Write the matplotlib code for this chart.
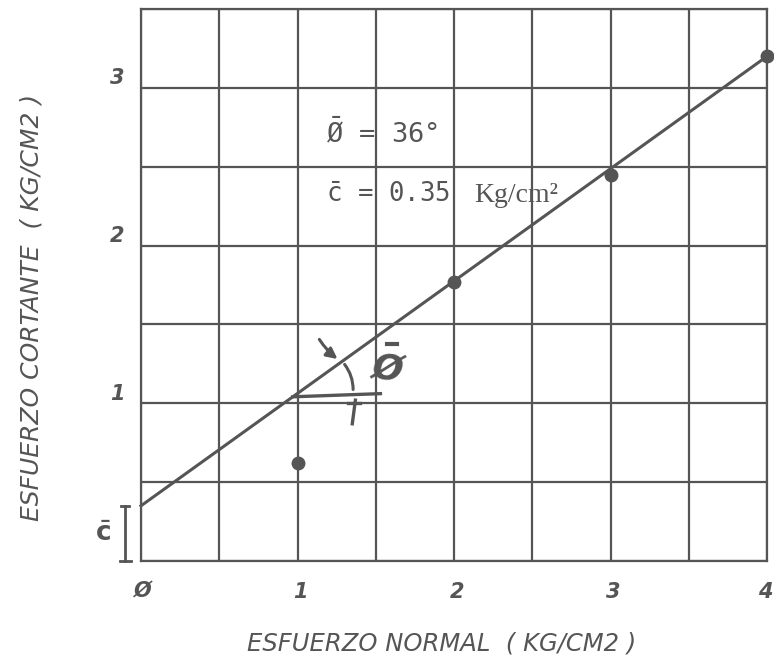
import numpy as np
import matplotlib
matplotlib.use("Agg")
import matplotlib.pyplot as plt
from matplotlib import font_manager

# data
normal_stress = [1, 2, 3, 4]
shear_stress = [0.62, 1.77, 2.45, 3.2]
fit_x = [0, 4]
fit_y = [0.35, 3.2]
cohesion = 0.35
phi_deg = 36
x_ticks = [0, 1, 2, 3, 4]
x_tick_labels = ["Ø", "1", "2", "3", "4"]
y_ticks = [1, 2, 3]
y_tick_labels = ["1", "2", "3"]

plt.rcParams["mathtext.fontset"] = "dejavusans"
plt.rcParams["mathtext.default"] = "regular"
ink = "#555555"
names = {f.name for f in font_manager.fontManager.ttflist}
lab_font = "Liberation Sans Narrow" if "Liberation Sans Narrow" in names else "DejaVu Sans"

fig = plt.figure(figsize=(7.74, 6.56), dpi=100)
ax = fig.add_axes([141/774, 1-561/656, (767-141)/774, (561-9)/656])
ax.set_xlim(0, 4)
ax.set_ylim(0, 3.5)

ax.set_xticks(np.arange(0, 4.01, 0.5))
ax.set_yticks(np.arange(0, 3.51, 0.5))
ax.grid(True, color=ink, linewidth=1.6)
ax.set_axisbelow(True)
for s in ax.spines.values():
    s.set_color(ink)
    s.set_linewidth(1.6)
ax.tick_params(length=0)
ax.set_xticklabels([])
ax.set_yticklabels([])

# custom tick labels
x_shift = [0.013, 0.02, 0.02, 0.02, -0.01]
for v, t, dx in zip(x_ticks, x_tick_labels, x_shift):
    ax.text(v + dx, -0.196, t, ha="center", va="center",
            fontsize=15, style="italic", fontweight="bold", color=ink,
            family=lab_font, clip_on=False)
for v, t in zip(y_ticks, y_tick_labels):
    ax.text(-0.154, v + 0.06, t, ha="center", va="center", fontsize=15,
            style="italic", fontweight="bold", color=ink, family=lab_font,
            clip_on=False)

ax.text(1.92, -0.52, "ESFUERZO NORMAL  ( KG/CM2 )", ha="center", va="center",
        fontsize=17.5, style="italic", color=ink, family=lab_font, clip_on=False)
fig.text(32/774, 1-307/656, "ESFUERZO CORTANTE  ( KG/CM2 )", rotation=90,
         ha="center", va="center", fontsize=18, style="italic", color=ink,
         family=lab_font)

# fit line and points
ax.plot(fit_x, fit_y, color=ink, linewidth=2.2, clip_on=False, zorder=3)
ax.plot(normal_stress, shear_stress, "o", color=ink, markersize=9,
        clip_on=False, zorder=4)

# parameter text
ax.text(1.18, 2.715, r"$\bar{\O}$ = 36°", fontsize=19.5, color=ink,
        family="DejaVu Sans Mono", va="center", ha="left")
ax.text(1.18, 2.32, r"$\bar{c}$ = 0.35", fontsize=18.5, color=ink,
        family="DejaVu Sans Mono", va="center", ha="left")
ax.text(2.13, 2.32, "Kg/cm²", fontsize=20, color=ink,
        family="Liberation Serif", va="center", ha="left")

# angle construction
x0 = 0.97
y0 = fit_y[0] + (fit_y[1] - fit_y[0]) / (fit_x[1] - fit_x[0]) * x0
ax.plot([x0, 1.53], [y0, y0 + 0.02], color=ink, linewidth=2.4, zorder=3)
ax.annotate("", xy=(1.27, 1.27), xytext=(1.13, 1.42),
            arrowprops=dict(arrowstyle="-|>", color=ink, lw=2.2, mutation_scale=16,
                            connectionstyle="arc3,rad=0.1"))
ax.annotate("", xy=(1.355, 1.07), xytext=(1.29, 1.26),
            arrowprops=dict(arrowstyle="-", color=ink, lw=2.2,
                            connectionstyle="arc3,rad=-0.2"))
ax.plot([1.37, 1.35], [1.02, 0.87], color=ink, lw=2.4)
ax.plot([1.32, 1.40], [1.0, 1.0], color=ink, lw=2.4)
ax.text(1.575, 1.22, "Ø", fontsize=26, fontweight="bold", style="italic",
        color=ink, family="DejaVu Sans", rotation=-8, ha="center", va="center")
ax.plot([1.57, 1.635], [1.375, 1.375], color=ink, lw=3)

# cohesion bracket
bx = -0.1
ax.plot([bx, bx], [0, cohesion], color=ink, lw=2, clip_on=False)
ax.plot([bx - 0.035, bx + 0.035], [0, 0], color=ink, lw=2, clip_on=False)
ax.plot([bx - 0.025, bx + 0.025], [cohesion, cohesion], color=ink, lw=2, clip_on=False)
ax.text(-0.24, 0.17, r"$\bar{c}$", fontsize=19, fontweight="bold", color=ink,
        ha="center", va="center", clip_on=False)

fig.savefig("out.png", dpi=100, facecolor="white")
